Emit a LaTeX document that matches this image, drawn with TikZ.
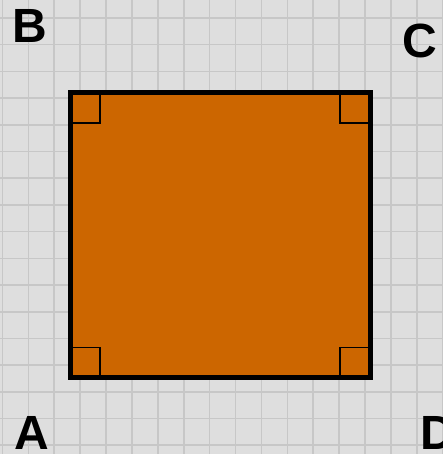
\documentclass[tikz,border=0pt]{standalone}
\usepackage{fontspec}
\setmainfont{Liberation Sans}
\begin{document}
\begin{tikzpicture}[x=1pt,y=-1pt,
  lbl/.style={font=\fontsize{48}{48}\selectfont\bfseries, inner sep=0pt},
  gridline/.style={draw=black!22, line width=1.6pt},
  edge/.style={draw=black, line width=5pt},
  rmark/.style={draw=black, line width=1.6pt}]
\fill[black!13] (0,0) rectangle (442,454);
\useasboundingbox (0,0) rectangle (442,454);
\foreach \i in {0,...,17} {
  \draw[gridline] ({2.4+25.9*\i},0) -- ({2.4+25.9*\i},454);
}
\foreach \j in {0,...,16} {
  \draw[gridline] (0,{18+26.7*\j}) -- (442,{18+26.7*\j});
}
\coordinate (pA) at (70,377.5);
\coordinate (pB) at (70,93);
\coordinate (pC) at (370,93);
\coordinate (pD) at (370,377.5);
\fill[fill={rgb,255:red,204;green,102;blue,0}] (pA) rectangle (pC);
\draw[rmark] (70,123) -| (100,93);
\draw[rmark] (340,93) |- (370,123);
\draw[rmark] (70,347.5) -| (100,377.5);
\draw[rmark] (340,377.5) |- (370,347.5);
\draw[edge] (pA) -- (pB) -- (pC) -- (pD) -- cycle;
\node[lbl] (A) at (32,433) {A};
\node[lbl] (B) at (30,26) {B};
\node[lbl] (C) at (420,41) {C};
\node[lbl] (D) at (438,433) {D};
\end{tikzpicture}
\end{document}
